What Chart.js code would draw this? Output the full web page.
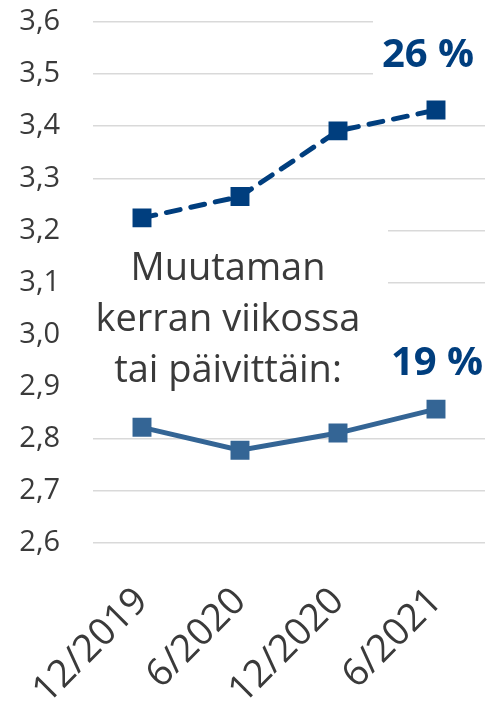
<!DOCTYPE html>
<html>
<head>
<meta charset="utf-8">
<script src="https://cdn.jsdelivr.net/npm/chart.js@4"></script>
<style>
  html, body { margin:0; padding:0; background:#fff; overflow:hidden; }
  #wrap { width:485px; height:709px; position:relative; }
</style>
</head>
<body>
<div id="wrap"><canvas id="c"></canvas></div>
<script>
// data
const categories = ['12/2019', '6/2020', '12/2020', '6/2021'];
const weeklyAll = [3.224, 3.265, 3.391, 3.431];     // dashed, dark blue
const weeklySub = [2.822, 2.778, 2.811, 2.857];     // solid, lighter blue
const yTickLabels = ['2,6','2,7','2,8','2,9','3,0','3,1','3,2','3,3','3,4','3,5','3,6'];

// annotation texts
const shareLabels = ['26 %', '19 %'];
const noteLines = ['Muutaman', 'kerran viikossa', 'tai päivittäin:'];

const DARK = '#003E7E';
const MID = '#346595';
const TXT = '#3a3a3a';
const FONT = "'Open Sans', 'Noto Sans', sans-serif";

// white boxes behind the texts (hide grid), then the texts themselves
const notes = {
  id: 'notes',
  beforeDatasetsDraw(chart){
    const {ctx, chartArea:a, scales:{y}} = chart;
    ctx.save();
    ctx.fillStyle = '#fff';
    // big text box
    ctx.fillRect(a.left, y.getPixelForValue(3.285), 388 - a.left, y.getPixelForValue(2.88) - y.getPixelForValue(3.285));
    // 26 % box
    ctx.fillRect(373, a.top - 3, a.right - 373, y.getPixelForValue(3.47) - a.top + 3);
    // 19 % box
    ctx.fillRect(388, y.getPixelForValue(3.06), a.right - 388, y.getPixelForValue(2.87) - y.getPixelForValue(3.06));
    ctx.restore();
  },
  afterDatasetsDraw(chart){
    const {ctx, scales:{x, y}} = chart;
    ctx.save();
    ctx.textAlign = 'center';
    ctx.textBaseline = 'alphabetic';
    ctx.fillStyle = DARK;
    ctx.font = `bold 40px ${FONT}`;
    ctx.fillText(shareLabels[0], x.getPixelForValue(3) - 8, y.getPixelForValue(3.514));
    ctx.fillText(shareLabels[1], x.getPixelForValue(3) + 1, y.getPixelForValue(2.922));
    ctx.fillStyle = TXT;
    ctx.font = `38px ${FONT}`;
    const cx = (x.getPixelForValue(0) + x.getPixelForValue(2)) / 2 - 12;
    const base = y.getPixelForValue(3.105);
    noteLines.forEach((t, i) => ctx.fillText(t, cx, base + i * 51));
    ctx.restore();
  }
};

new Chart(document.getElementById('c'), {
  type: 'line',
  data: {
    labels: categories,
    datasets: [
      {
        data: weeklyAll,
        borderColor: DARK,
        backgroundColor: DARK,
        borderWidth: 5,
        borderDash: [14, 11],
        borderCapStyle: 'round',
        pointStyle: 'rect',
        pointRadius: 13.4,
        pointBorderWidth: 0,
        tension: 0
      },
      {
        data: weeklySub,
        borderColor: MID,
        backgroundColor: MID,
        borderWidth: 5,
        pointStyle: 'rect',
        pointRadius: 13.4,
        pointBorderWidth: 0,
        tension: 0
      }
    ]
  },
  options: {
    responsive: true,
    maintainAspectRatio: false,
    animation: false,
    layout: { autoPadding: false, padding: { top: 22, right: 0, left: 0, bottom: 0 } },
    plugins: { legend: { display: false }, tooltip: { enabled: false } },
    scales: {
      x: {
        offset: true,
        grid: { display: false },
        border: { display: false },
        ticks: {
          color: TXT,
          font: { family: FONT, size: 38 },
          minRotation: 45,
          maxRotation: 45,
          padding: 28
        },
        afterFit: s => { s.height = 166; s.paddingLeft = 0; s.paddingRight = 0; }
      },
      y: {
        min: 2.6,
        max: 3.6,
        grid: { color: '#d9d9d9', lineWidth: 1.5, drawTicks: false },
        border: { display: false },
        ticks: {
          stepSize: 0.1,
          color: TXT,
          padding: 33,
          font: { family: FONT, size: 29 },
          callback: (v, i) => yTickLabels[i]
        },
        afterFit: s => { s.width = 93; s.paddingTop = 0; s.paddingBottom = 0; }
      }
    }
  },
  plugins: [notes]
});
</script>
</body>
</html>
